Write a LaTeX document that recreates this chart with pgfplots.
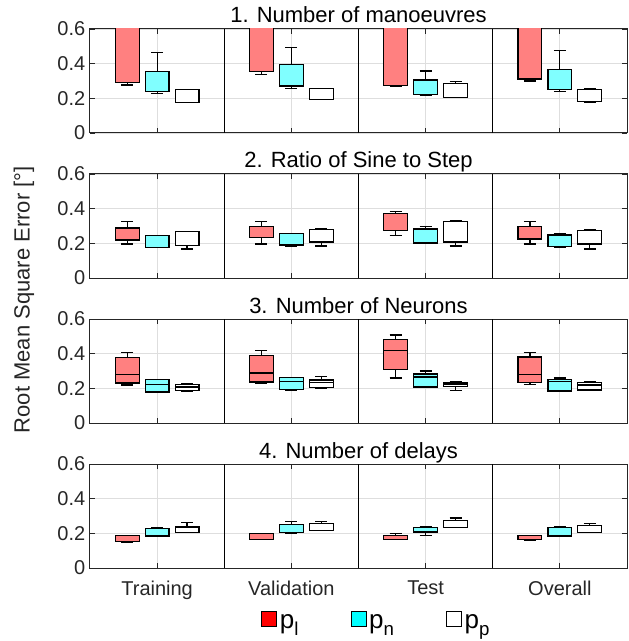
\documentclass[border=0pt]{standalone}
\usepackage{fontspec}
\setmainfont{Liberation Sans}
\usepackage{pgfplots}
\usepackage{pgfplotstable}
\pgfplotsset{compat=1.18}
\usepgfplotslibrary{groupplots,statistics}
\usetikzlibrary{calc}

\definecolor{boxred}{RGB}{255,128,128}
\definecolor{boxcyan}{RGB}{128,255,255}
\definecolor{keyred}{RGB}{255,0,0}
\definecolor{keycyan}{RGB}{0,255,255}
\definecolor{axisgray}{RGB}{38,38,38}
\definecolor{gridgray}{RGB}{222,222,222}

% rows: Training (l,n,p), Validation (l,n,p), Test (l,n,p), Overall (l,n,p)
\pgfplotstableread{
lw    lq    med   uq    uw
0.277 0.292 0.700 0.950 1.200
0.228 0.240 0.240 0.356 0.466
0.178 0.178 0.178 0.252 0.252
0.339 0.354 0.700 0.950 1.200
0.259 0.271 0.271 0.395 0.495
0.192 0.195 0.195 0.257 0.257
0.271 0.275 0.700 0.950 1.200
0.217 0.223 0.223 0.306 0.358
0.207 0.207 0.207 0.285 0.298
0.300 0.312 0.700 0.950 1.200
0.240 0.252 0.252 0.366 0.476
0.178 0.184 0.184 0.252 0.257
}\manoeuvres

\pgfplotstableread{
lw    lq    med   uq    uw
0.196 0.219 0.219 0.288 0.327
0.175 0.175 0.175 0.246 0.246
0.167 0.187 0.187 0.267 0.267
0.196 0.233 0.233 0.296 0.327
0.185 0.190 0.190 0.258 0.258
0.185 0.208 0.208 0.279 0.287
0.244 0.275 0.275 0.373 0.385
0.202 0.202 0.202 0.283 0.296
0.185 0.208 0.208 0.325 0.333
0.196 0.225 0.225 0.296 0.327
0.175 0.181 0.181 0.248 0.256
0.167 0.196 0.196 0.273 0.277
}\sinestep

\pgfplotstableread{
lw    lq    med   uq    uw
0.219 0.231 0.281 0.379 0.408
0.179 0.179 0.223 0.250 0.250
0.183 0.188 0.208 0.223 0.229
0.229 0.237 0.288 0.388 0.419
0.188 0.192 0.240 0.262 0.262
0.198 0.204 0.233 0.248 0.269
0.260 0.310 0.419 0.481 0.508
0.208 0.208 0.265 0.283 0.300
0.188 0.210 0.225 0.235 0.238
0.221 0.233 0.281 0.381 0.408
0.181 0.185 0.238 0.252 0.260
0.190 0.190 0.219 0.233 0.238
}\neurons

\pgfplotstableread{
lw    lq    med   uq    uw
0.147 0.151 0.151 0.189 0.189
0.181 0.185 0.185 0.226 0.232
0.207 0.207 0.207 0.237 0.261
0.166 0.166 0.166 0.199 0.199
0.197 0.203 0.203 0.249 0.268
0.216 0.216 0.216 0.255 0.268
0.166 0.166 0.166 0.189 0.197
0.187 0.208 0.208 0.232 0.237
0.232 0.232 0.232 0.274 0.288
0.158 0.164 0.164 0.189 0.189
0.185 0.185 0.185 0.232 0.237
0.207 0.207 0.207 0.243 0.259
}\delays

% twelve boxes of one panel, three per category
\newcommand{\boxes}[1]{%
  \pgfplotsinvokeforeach{0,...,11}{%
    \pgfplotstablegetelem{##1}{lw}\of#1\let\vlw\pgfplotsretval
    \pgfplotstablegetelem{##1}{lq}\of#1\let\vlq\pgfplotsretval
    \pgfplotstablegetelem{##1}{med}\of#1\let\vmed\pgfplotsretval
    \pgfplotstablegetelem{##1}{uq}\of#1\let\vuq\pgfplotsretval
    \pgfplotstablegetelem{##1}{uw}\of#1\let\vuw\pgfplotsretval
    \pgfmathsetmacro\vpos{floor(##1/3)+0.223*(mod(##1,3)-1)}%
    \edef\doplot{\noexpand\addplot+[boxplot prepared={draw position=\vpos,
        draw direction=y,
        lower whisker=\vlw, lower quartile=\vlq, median=\vmed,
        upper quartile=\vuq, upper whisker=\vuw,
        box extend=0.178, whisker extend=0.09}] coordinates {};}%
    \doplot
  }%
}
\newcommand{\sub}[1]{\raisebox{-5.5pt}{\fontsize{14pt}{15pt}\selectfont #1}}
\newcommand{\key}[1]{\draw[fill=#1,draw=black,line width=0.75pt] (0pt,-3pt) rectangle (11.25pt,8.25pt);}

\begin{document}
\begin{tikzpicture}
\begin{groupplot}[
  group style={group size=1 by 4, vertical sep=30.75pt, xticklabels at=edge bottom},
  scale only axis, width=402.75pt, height=78pt,
  xmin=-0.5, xmax=3.5, ymin=0, ymax=0.6,
  xtick={0,1,2,3}, xticklabels={Training,Validation,Test,Overall},
  ytick={0,0.2,0.4,0.6},
  grid=major, major grid style={gridgray, line width=0.6pt},
  axis line style={axisgray, line width=0.75pt},
  tick style={axisgray, line width=0.6pt},
  tick align=inside, major tick length=3.5pt,
  extra x ticks={0.5,1.5,2.5}, extra x tick labels={},
  extra x tick style={grid=major, major grid style={black, line width=0.8pt}, major tick length=0pt},
  ticklabel style={font=\fontsize{15pt}{17pt}\selectfont, text=axisgray},
  xticklabel style={yshift=-6pt},
  /pgf/number format/assume math mode=true,
  yticklabel style={/pgf/number format/fixed, /pgf/number format/precision=1},
  every axis title/.style={at={(0.5,1)}, anchor=base, yshift=4.5pt, inner sep=0pt,
    font=\fontsize{16.5pt}{18pt}\selectfont},
  cycle list={{fill=boxred,draw=black},{fill=boxcyan,draw=black},{fill=white,draw=black}},
  every axis plot/.append style={line width=0.9pt},
]
\nextgroupplot[title={1. Number of manoeuvres}]
\boxes{\manoeuvres}
\nextgroupplot[title={2. Ratio of Sine to Step}]
\boxes{\sinestep}
\nextgroupplot[title={3. Number of Neurons}]
\boxes{\neurons}
\nextgroupplot[title={4. Number of delays},
  legend columns=3,
  legend style={at={(0.534,-0.52)}, anchor=center, draw=none, fill=none,
    font=\fontsize{19.5pt}{21pt}\selectfont,
    /tikz/every even column/.append style={column sep=37pt}},
  legend cell align=left]
\addlegendimage{legend image code/.code={\key{keyred}}}
\addlegendentry{p\sub{l}}
\addlegendimage{legend image code/.code={\key{keycyan}}}
\addlegendentry{p\sub{n}}
\addlegendimage{legend image code/.code={\key{white}}}
\addlegendentry{p\sub{p}}
\boxes{\delays}
\end{groupplot}
\node[rotate=90, anchor=center, font=\fontsize{16.5pt}{18pt}\selectfont, text=axisgray]
  at ($($(group c1r1.north west)!0.5!(group c1r4.south west)$)+(-49.5pt,-1pt)$) {Root Mean Square Error [°]};
\pgfresetboundingbox
\path (group c1r1.north west) ++(-67.5pt,21.75pt) rectangle ++(471pt,-480.75pt);
\end{tikzpicture}
\end{document}
